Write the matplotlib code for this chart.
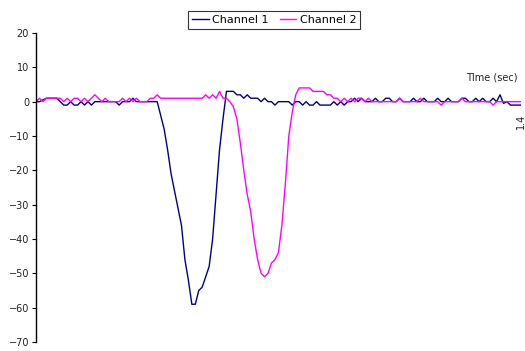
import numpy as np
import matplotlib
matplotlib.use("Agg")
import matplotlib.pyplot as plt

# Time axis (sec), sampled every 0.01 s
time = np.round(np.arange(0, 1.41, 0.01), 2)

channel1 = [
    0, 0, 0.5, 1, 1, 1, 1, 0, -1, -1,
    0, -1, -1, 0, -1, 0, -1, 0, 0, 0,
    0, 0, 0, 0, -1, 0, 0, 0, 1, 0,
    0, 0, 0, 0, 0, 0, -4, -8, -14, -21,
    -26, -31, -36, -46, -52, -59, -59, -55, -54, -51,
    -48, -40, -27, -14, -5, 3, 3, 3, 2, 2,
    1, 2, 1, 1, 1, 0, 1, 0, 0, -1,
    0, 0, 0, 0, -1, 0, 0, -1, 0, -1,
    -1, 0, -1, -1, -1, -1, 0, -1, 0, -1,
    0, 0, 1, 0, 1, 0, 0, 0, 1, 0,
    0, 1, 1, 0, 0, 1, 0, 0, 0, 1,
    0, 0, 1, 0, 0, 0, 1, 0, 0, 1,
    0, 0, 0, 1, 1, 0, 0, 1, 0, 1,
    0, 0, 1, 0, 2, -0.5, 0, -1, -1, -1,
    -1,
]

channel2 = [
    0, 1, 0, 1, 1, 1, 1, 1, 0, 1,
    0, 1, 1, 0, 1, 0, 1, 2, 1, 0,
    1, 0, 0, 0, 0, 1, 0, 1, 0, 1,
    0, 0, 0, 1, 1, 2, 1, 1, 1, 1,
    1, 1, 1, 1, 1, 1, 1, 1, 1, 2,
    1, 2, 1, 3, 1, 1, 0, -1.5, -5, -12,
    -20, -27, -32, -40, -46, -50, -51, -50, -47, -46,
    -44, -36, -24, -10, -3, 2, 4, 4, 4, 4,
    3, 3, 3, 3, 2, 2, 1, 1, 0, 1,
    0, 1, 0, 1, 1, 0, 1, 0, 0, 0,
    0, 0, 0, 0, 0, 1, 0, 0, 0, 0,
    0, 1, 0, 0, 0, 0, 0, -1, 0, 0,
    0, 0, 0, 1, 0, 0, 0, 0, 0, 0,
    0, 0, -1, 0, 0, 0, 0, 0, 0, 0,
    0,
]

yticks = np.arange(-70, 21, 10)

fig = plt.figure(figsize=(5.25, 3.51), dpi=100)
ax = fig.add_axes([0.0686, 0.0256, 0.9234, 0.8804])

ax.plot(time, channel1, color="#000080", lw=1.0, label="Channel 1")
ax.plot(time, channel2, color="#ff00ff", lw=1.0, label="Channel 2")

ax.set_xlim(0, 1.4)
ax.set_ylim(-70, 20)
ax.set_yticks(yticks)

ax.spines["top"].set_visible(False)
ax.spines["right"].set_visible(False)
ax.spines["bottom"].set_visible(False)
ax.spines["left"].set_linewidth(1.0)

ax.tick_params(axis="y", direction="out", length=3, width=0.8,
               labelsize=7, labelcolor="#222222", pad=2)

# category axis crosses at 0, only the last label shows
ax.set_xticks([])
ax.text(1.4, -3.5, "1.4", rotation=90, fontsize=7, color="#222222",
        ha="center", va="top")
ax.text(1.39, 5.5, "TIme (sec)", fontsize=7, color="#222222",
        ha="right", va="bottom")

leg = fig.legend(loc="upper center", bbox_to_anchor=(0.522, 0.985), ncol=2,
                 fontsize=8, frameon=True, fancybox=False, edgecolor="black",
                 handlelength=1.5, handletextpad=0.3, columnspacing=1.0,
                 borderpad=0.35)
leg.get_frame().set_linewidth(0.8)

fig.savefig("out.png", dpi=100)
